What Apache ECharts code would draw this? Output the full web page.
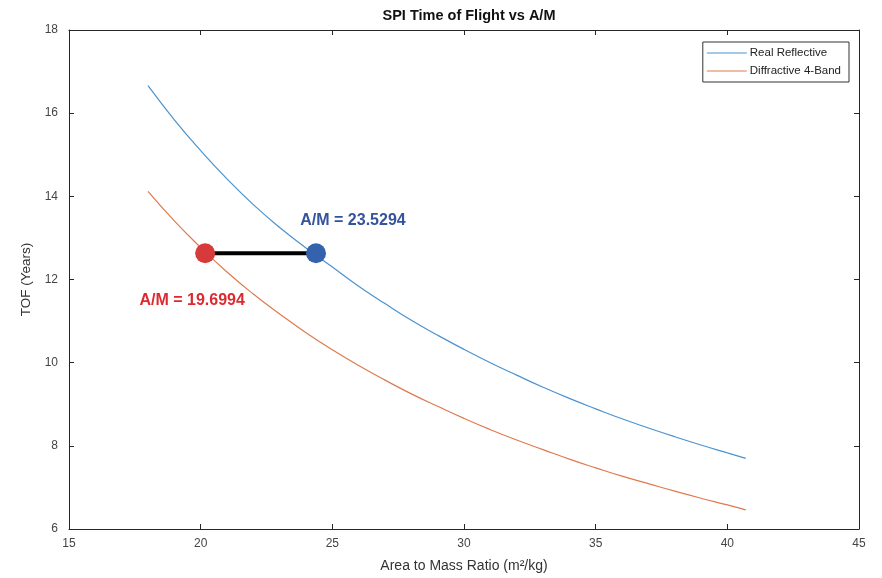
<!DOCTYPE html>
<html>
<head>
<meta charset="utf-8">
<script src="https://cdn.jsdelivr.net/npm/echarts@6/dist/echarts.min.js"></script>
<style>
  html, body { margin: 0; padding: 0; background: #fff; }
  #chart { width: 882px; height: 578px; }
</style>
</head>
<body>
<div id="chart"></div>
<script>
// A/M values (m^2/kg) and TOF (years)
const reflectX = [18, 19, 20, 21, 22, 23, 24, 25, 26, 27, 28, 29, 30, 31, 32, 33, 34, 35, 36, 37, 38, 39, 40, 40.7];
const reflectTOF = [16.66, 15.84, 15.1, 14.42, 13.8, 13.25, 12.76, 12.3, 11.84, 11.42, 11.02, 10.66, 10.32, 10.0, 9.7, 9.41, 9.14, 8.89, 8.65, 8.43, 8.22, 8.02, 7.83, 7.7];
const diffractX = [18, 19, 20, 21, 22, 23, 24, 25, 26, 27, 28, 29, 30, 31, 32, 33, 34, 35, 36, 37, 38, 39, 40, 40.7];
const diffractTOF = [14.12, 13.41, 12.77, 12.18, 11.65, 11.17, 10.72, 10.31, 9.93, 9.58, 9.25, 8.95, 8.66, 8.39, 8.14, 7.91, 7.68, 7.47, 7.27, 7.09, 6.91, 6.74, 6.58, 6.46];

// the two marked points and their labels
const redPoint = [20.17, 12.63];
const bluePoint = [24.38, 12.63];
const redLabel = 'A/M = 19.6994';
const blueLabel = 'A/M = 23.5294';

const xTicks = { min: 15, max: 45, interval: 5 };
const yTicks = { min: 6, max: 18, interval: 2 };

const pairs = (xs, ys) => xs.map((x, i) => [x, ys[i]]);

const axisCol = '#262626';
const font = 'Liberation Sans';
const chart = echarts.init(document.getElementById('chart'));

const baseX = {
  type: 'value',
  min: xTicks.min, max: xTicks.max, interval: xTicks.interval,
  splitLine: { show: false },
  axisLine: { show: true, onZero: false, lineStyle: { color: axisCol, width: 1 } },
  axisTick: { show: true, inside: true, length: 5, lineStyle: { color: axisCol } }
};
const baseY = {
  type: 'value',
  min: yTicks.min, max: yTicks.max, interval: yTicks.interval,
  splitLine: { show: false },
  axisLine: { show: true, onZero: false, lineStyle: { color: axisCol, width: 1 } },
  axisTick: { show: true, inside: true, length: 5, lineStyle: { color: axisCol } }
};

chart.setOption({
  backgroundColor: '#fff',
  animation: false,
  title: {
    text: 'SPI Time of Flight vs A/M',
    left: 464, top: 3, textAlign: 'center',
    textStyle: { fontFamily: font, fontSize: 14.5, fontWeight: 'bold', color: '#111' }
  },
  grid: { left: 69, right: 23, top: 30, bottom: 48 },
  legend: {
    orient: 'vertical',
    right: 33, top: 42,
    data: ['Real Reflective', 'Diffractive 4-Band'],
    icon: 'rect',
    backgroundColor: '#fff',
    borderColor: '#333', borderWidth: 1,
    padding: [5, 8, 5, 4],
    itemWidth: 40, itemHeight: 1, itemGap: 6,
    textStyle: { fontFamily: font, fontSize: 11.5, color: '#222', padding: [0, 0, 0, -2] }
  },
  xAxis: [
    Object.assign({}, baseX, {
      position: 'bottom',
      name: 'Area to Mass Ratio (m²/kg)',
      nameLocation: 'middle', nameGap: 30,
      nameTextStyle: { fontFamily: font, fontSize: 14, color: '#333' },
      axisLabel: { margin: 9, fontFamily: font, fontSize: 12, color: '#444' }
    }),
    Object.assign({}, baseX, { position: 'top', axisLabel: { show: false } })
  ],
  yAxis: [
    Object.assign({}, baseY, {
      position: 'left',
      name: 'TOF (Years)',
      nameLocation: 'middle', nameGap: 30,
      nameTextStyle: { fontFamily: font, fontSize: 13.5, color: '#333' },
      axisLabel: { margin: 11, fontFamily: font, fontSize: 12, color: '#444' }
    }),
    Object.assign({}, baseY, { position: 'right', axisLabel: { show: false } })
  ],
  series: [
    {
      name: 'Real Reflective', type: 'line', symbol: 'none', smooth: true,
      data: pairs(reflectX, reflectTOF),
      lineStyle: { color: '#4a93d0', width: 1.2 },
      itemStyle: { color: '#4a93d0' }
    },
    {
      name: 'Diffractive 4-Band', type: 'line', symbol: 'none', smooth: true,
      data: pairs(diffractX, diffractTOF),
      lineStyle: { color: '#e07a4e', width: 1.2 },
      itemStyle: { color: '#e07a4e' }
    },
    {
      name: 'gap', type: 'line', symbol: 'none',
      data: [redPoint, bluePoint],
      lineStyle: { color: '#000', width: 4 },
      z: 3
    },
    {
      name: 'red mark', type: 'scatter', symbolSize: 20,
      data: [redPoint],
      itemStyle: { color: '#d63a3a', opacity: 1 },
      label: {
        show: true, position: 'inside', offset: [-13, 47],
        formatter: redLabel,
        fontFamily: font, fontSize: 16, fontWeight: 'bold', color: '#dd2a30'
      },
      z: 4
    },
    {
      name: 'blue mark', type: 'scatter', symbolSize: 20,
      data: [bluePoint],
      itemStyle: { color: '#3462ad', opacity: 1 },
      label: {
        show: true, position: 'inside', offset: [37, -33],
        formatter: blueLabel,
        fontFamily: font, fontSize: 16, fontWeight: 'bold', color: '#34539d'
      },
      z: 4
    }
  ]
});
</script>
</body>
</html>
